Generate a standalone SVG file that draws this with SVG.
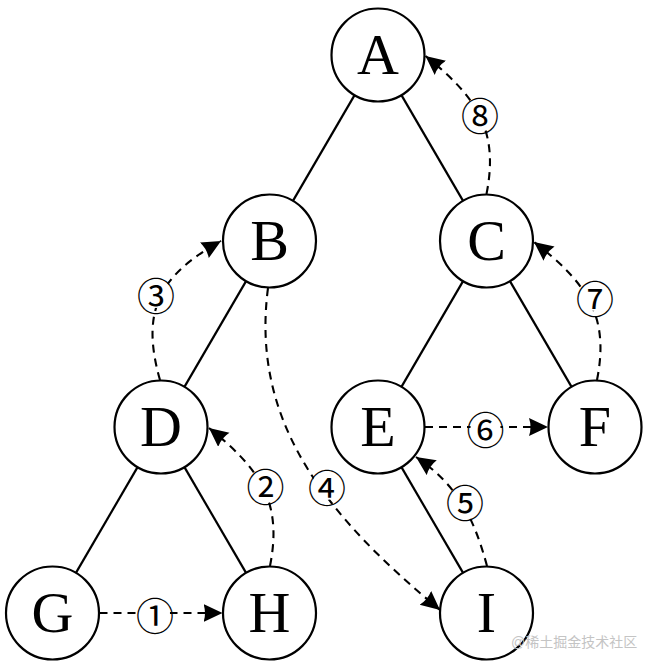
<svg xmlns="http://www.w3.org/2000/svg" width="653" height="669" viewBox="0 0 653 669">
<style>
.node circle{fill:#fff;stroke:#000;stroke-width:2.2}
.node text{font-family:"Liberation Serif","DejaVu Serif",serif;font-size:58px;text-anchor:middle;fill:#000}
.edge{stroke:#000;stroke-width:2.2;fill:none}
.dash{stroke:#000;stroke-width:2.1;fill:none;stroke-dasharray:8 6;marker-end:url(#arr)}
.lbg{fill:#fff;stroke:none}
.lbl{font-family:"Noto Sans CJK JP","DejaVu Sans",sans-serif;font-size:38px;text-anchor:middle;dominant-baseline:central;fill:#000}
.wm{font-family:"Liberation Sans","Noto Sans CJK SC",sans-serif;font-size:14px;fill:#c4c4c4}
</style>
<defs>
<marker id="arr" markerUnits="userSpaceOnUse" markerWidth="21" markerHeight="19" refX="19" refY="9" orient="auto">
<path d="M0,0 L19,9 L0,18 Q3,9 0,0 z" fill="#000"/>
</marker>
</defs>
<g id="edges">
<line class="edge" x1="354.57" y1="95.17" x2="292.93" y2="200.83"/>
<line class="edge" x1="401.43" y1="95.17" x2="463.07" y2="200.83"/>
<line class="edge" x1="246.07" y1="281.17" x2="184.43" y2="386.83"/>
<line class="edge" x1="463.07" y1="281.17" x2="401.43" y2="386.83"/>
<line class="edge" x1="509.93" y1="281.17" x2="571.57" y2="386.83"/>
<line class="edge" x1="137.57" y1="467.17" x2="75.93" y2="572.83"/>
<line class="edge" x1="184.43" y1="467.17" x2="246.07" y2="572.83"/>
<line class="edge" x1="401.43" y1="467.17" x2="463.07" y2="572.83"/>
</g>
<g id="node-A" class="node"><circle cx="378" cy="55" r="46.5"/><text x="378" y="74">A</text></g>
<g id="node-B" class="node"><circle cx="269.5" cy="241" r="46.5"/><text x="269.5" y="260">B</text></g>
<g id="node-C" class="node"><circle cx="486.5" cy="241" r="46.5"/><text x="486.5" y="260">C</text></g>
<g id="node-D" class="node"><circle cx="161" cy="427" r="46.5"/><text x="161" y="446">D</text></g>
<g id="node-E" class="node"><circle cx="378" cy="427" r="46.5"/><text x="378" y="446">E</text></g>
<g id="node-F" class="node"><circle cx="595" cy="427" r="46.5"/><text x="595" y="446">F</text></g>
<g id="node-G" class="node"><circle cx="52.5" cy="613" r="46.5"/><text x="52.5" y="632">G</text></g>
<g id="node-H" class="node"><circle cx="269.5" cy="613" r="46.5"/><text x="269.5" y="632">H</text></g>
<g id="node-I" class="node"><circle cx="486.5" cy="613" r="46.5"/><text x="486.5" y="632">I</text></g>
<g id="connectors">
<path class="dash" d="M99.5,613 L222.5,613"/>
<path class="dash" d="M270,566 C282.7,502.3 260.3,469.1 209,428"/>
<path class="dash" d="M160,380 C140,310 160,275 221,241"/>
<path class="dash" d="M268,288 C249.8,426.6 332.2,520.4 440,610"/>
<path class="dash" d="M487,566 C474,517.7 457.4,485.1 416,457"/>
<path class="dash" d="M425,427 L548,427"/>
<path class="dash" d="M597,380 C609.7,316.3 587.3,283.1 534,242"/>
<path class="dash" d="M486.5,194 C499.2,130.3 476.8,97.1 425.5,56"/>
<g id="labels">
<circle class="lbg" cx="155" cy="613" r="15"/><text class="lbl" x="155" y="613">①</text>
<circle class="lbg" cx="265.5" cy="484" r="15"/><text class="lbl" x="265.5" y="484">②</text>
<circle class="lbg" cx="156" cy="293" r="15"/><text class="lbl" x="156" y="293">③</text>
<circle class="lbg" cx="327" cy="485" r="15"/><text class="lbl" x="327" y="485">④</text>
<circle class="lbg" cx="465" cy="500" r="15"/><text class="lbl" x="465" y="500">⑤</text>
<circle class="lbg" cx="485.5" cy="427" r="15"/><text class="lbl" x="485.5" y="427">⑥</text>
<circle class="lbg" cx="595" cy="296" r="15"/><text class="lbl" x="595" y="296">⑦</text>
<circle class="lbg" cx="480" cy="113" r="15"/><text class="lbl" x="480" y="113">⑧</text>
</g>
</g>
<text class="wm" x="511" y="647">@稀土掘金技术社区</text>
</svg>
